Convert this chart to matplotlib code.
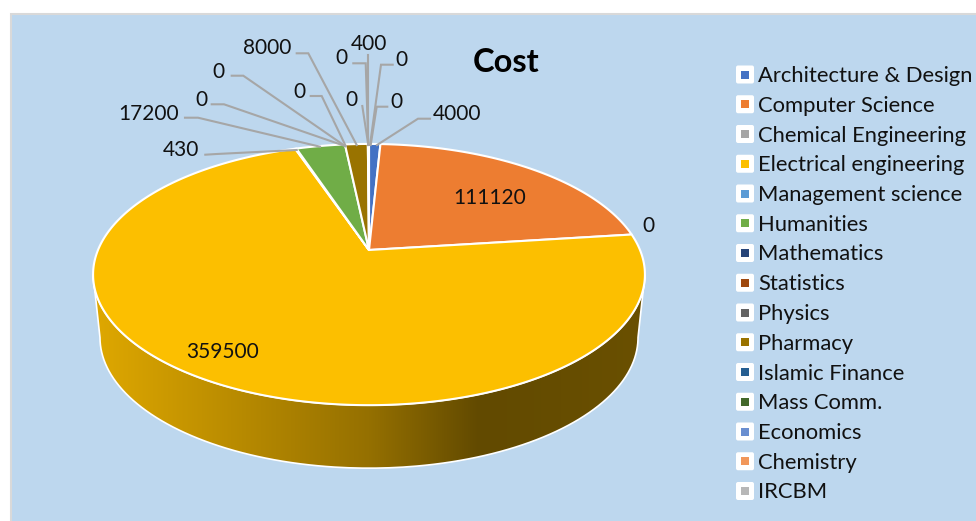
import numpy as np
import matplotlib
matplotlib.use('Agg')
import matplotlib.pyplot as plt
from matplotlib.colors import LinearSegmentedColormap
from matplotlib.patches import FancyBboxPatch, PathPatch, Rectangle
from matplotlib.path import Path

categories = ['Architecture & Design', 'Computer Science', 'Chemical Engineering',
              'Electrical engineering', 'Management science', 'Humanities',
              'Mathematics', 'Statistics', 'Physics', 'Pharmacy', 'Islamic Finance',
              'Mass Comm.', 'Economics', 'Chemistry', 'IRCBM']
cost = [4000, 111120, 0, 359500, 430, 17200, 0, 0, 0, 8000, 0, 0, 400, 0, 0]
colors = ['#4472C4', '#ED7D31', '#A5A5A5', '#FCBF00', '#5B9BD5', '#70AD47', '#264478',
          '#9E480E', '#636363', '#997300', '#255E91', '#43682B', '#698ED0', '#F1975A',
          '#B7B7B7']

# label centre, then the leader line from label to slice, same order as cost
label_pos = [(457, 113.5), (490, 197.5), (648, 226.5), (223, 351.5), (181, 149.5), (149, 114.5),
             (201, 100.5), (218, 72.5), (299, 91.5), (267, 48.5), (351, 100.5), (341, 58.5),
             (369, 44.5), (401, 60.5), (396, 102.5)]
leaders = [[(430, 118.7), (418, 118.7), (377, 145)],
           None,
           None,
           None,
           [(205.3, 154.7), (216.7, 154), (296.7, 150)],
           [(185, 117.7), (198, 117.7), (320, 146.7)],
           [(211.7, 104.3), (224, 104.3), (345, 146)],
           [(231.7, 75.7), (243.3, 75.7), (345, 146)],
           [(310.7, 96), (321.7, 96), (345.7, 146)],
           [(296.7, 53.3), (308.3, 53.3), (356.7, 145)],
           [(362.3, 106), (368.3, 145)],
           [(353.3, 63.3), (365.7, 63.3), (368.3, 145)],
           [(368.3, 55), (368.3, 145)],
           [(392.7, 64.7), (381, 64.7), (370, 145)],
           [(387.3, 106.7), (376.7, 106.7), (370.7, 145)]]

FONT = 'Lato'
CX, CY = 369, 250
K, A, B = 0.188, 126, 271
DEPTH = 63


def project(theta, r=1.0):
    # theta clockwise from the back of the disc, simple perspective tilt
    x = r * np.sin(theta)
    y = r * np.cos(theta)
    d = 1 + K * y
    return CX + B * x / d, CY - A * y / d


fig = plt.figure(figsize=(9.76, 5.21), dpi=100, facecolor='white')
ax = fig.add_axes([0, 0, 1, 1])
ax.set_xlim(0, 976)
ax.set_ylim(521, 0)
ax.axis('off')

ax.add_patch(Rectangle((11, 14), 970, 512, facecolor='#BDD7EE', edgecolor='#D9D9D9', lw=1.5))

# side wall, only the big slice shows at the front
t0 = np.arccos(-K)
t = np.linspace(t0, 2 * np.pi - t0, 200)
tx, ty = project(t)
bx = CX + (tx - CX) * 0.975
by = ty + DEPTH
wall = np.column_stack([np.r_[tx, bx[::-1]], np.r_[ty, by[::-1]]])
clip = PathPatch(Path(np.vstack([wall, wall[0]])), facecolor='none', edgecolor='white', lw=1.2, zorder=2)
ax.add_patch(clip)
cmap = LinearSegmentedColormap.from_list('wall', [(0, '#DFA800'), (0.5, '#957000'),
                                                  (0.70, '#624A00'), (1, '#6A5000')])
im = ax.imshow(np.linspace(0, 1, 256).reshape(1, -1), cmap=cmap, aspect='auto',
               extent=(93, 645, 480, 250), zorder=1.5)
im.set_clip_path(clip)
ax.set_xlim(0, 976)
ax.set_ylim(521, 0)

# top face
angles = np.radians(np.cumsum([0] + cost) / sum(cost) * 360)
for i, v in enumerate(cost):
    if v == 0:
        continue
    n = max(int(v / sum(cost) * 720), 2)
    th = np.linspace(angles[i], angles[i + 1], n)
    px, py = project(th)
    ax.fill(np.r_[CX, px], np.r_[CY, py], facecolor=colors[i], edgecolor='white',
            lw=1.5, joinstyle='round', zorder=3)

# data labels and leaders
for v, pos, line in zip(cost, label_pos, leaders):
    ax.text(pos[0], pos[1], str(v), ha='center', va='center', fontsize=15, family=FONT,
            color='#111111', zorder=6)
    if line is not None:
        xs, ys = zip(*line)
        ax.plot(xs, ys, color='#A6A6A6', lw=1.5, zorder=5, solid_joinstyle='miter')

ax.text(506, 62, 'Cost', ha='center', va='center', fontsize=23.5, fontweight='bold',
        family=FONT, color='black')

# legend
for i, (name, c) in enumerate(zip(categories, colors)):
    y = 74.5 + i * 29.75
    ax.add_patch(FancyBboxPatch((736, y - 9), 18, 18, boxstyle='round,pad=0,rounding_size=2',
                                facecolor='white', edgecolor='none', zorder=4))
    ax.add_patch(Rectangle((741, y - 4), 8, 8, facecolor=c, edgecolor='none', zorder=5))
    ax.text(758, y + 1.5, name, ha='left', va='center', fontsize=15.8, family=FONT, color='#111111')

fig.savefig('out.png', dpi=100, facecolor='white')
